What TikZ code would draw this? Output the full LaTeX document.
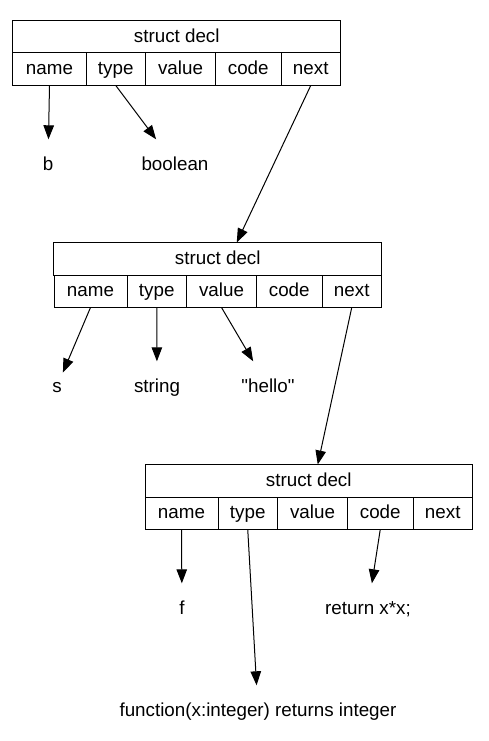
\documentclass[tikz,border=0pt]{standalone}
\usepackage{fontspec}
\setmainfont{Liberation Sans}[Ligatures=TeXReset]
\usetikzlibrary{arrows.meta, positioning}

\tikzset{
	field/.style={shape=rectangle, draw, line width=1bp, minimum height=32.5bp, inner sep=0pt, outer sep=0pt, text height=12bp, text depth=1bp},
	leaf/.style={shape=rectangle, minimum height=50bp, inner sep=1bp, text height=12bp, text depth=1bp},
	ptr/.style={line width=1bp, -{Triangle[length=14bp, width=10.5bp]}}
}

\begin{document}
\begin{tikzpicture}[x=1bp, y=-1bp, font=\fontsize{18.8bp}{22bp}\selectfont]
	\useasboundingbox (0,0) rectangle (489,741);
	% Records:
	\node[field, minimum width=327.5bp] (hdr1) at (176.75, 36.75) {struct decl};
	\node[field, minimum width=73bp] (name1) at (49.5, 69.25) {name};
	\node[field, minimum width=59.5bp] (type1) at (115.75, 69.25) {type};
	\node[field, minimum width=70bp] (value1) at (180.5, 69.25) {value};
	\node[field, minimum width=65.5bp] (code1) at (248.25, 69.25) {code};
	\node[field, minimum width=59.5bp] (next1) at (310.75, 69.25) {next};

	\node[field, minimum width=327.5bp] (hdr2) at (217.75, 258.75) {struct decl};
	\node[field, minimum width=73bp] (name2) at (90.5, 291.25) {name};
	\node[field, minimum width=59.5bp] (type2) at (156.75, 291.25) {type};
	\node[field, minimum width=70bp] (value2) at (221.5, 291.25) {value};
	\node[field, minimum width=65.5bp] (code2) at (289.25, 291.25) {code};
	\node[field, minimum width=59.5bp] (next2) at (351.75, 291.25) {next};

	\node[field, minimum width=327.5bp] (hdr3) at (308.75, 480.75) {struct decl};
	\node[field, minimum width=73bp] (name3) at (181.5, 513.25) {name};
	\node[field, minimum width=59.5bp] (type3) at (247.75, 513.25) {type};
	\node[field, minimum width=70bp] (value3) at (312.5, 513.25) {value};
	\node[field, minimum width=65.5bp] (code3) at (380.25, 513.25) {code};
	\node[field, minimum width=59.5bp] (next3) at (442.75, 513.25) {next};

	% Values:
	\node[leaf] (b) at (48, 164.5) {b};
	\node[leaf] (boolean) at (175, 164.5) {boolean};
	\node[leaf] (s) at (57, 386.5) {s};
	\node[leaf] (string) at (157, 386.5) {string};
	\node[leaf] (hello) at (268, 386.5) {"hello"};
	\node[leaf] (f) at (182, 608.5) {f};
	\node[leaf] (ret) at (368, 608.5) {return x*x;};
	\node[leaf] (func) at (258, 710.5) {function(x:integer) returns integer};

	% Pointers:
	\draw[ptr] (name1.south) -- (b);
	\draw[ptr] (type1.south) -- (boolean);
	\draw[ptr] (next1.south) -- ([xshift=19bp]hdr2.north);
	\draw[ptr] (name2.south) -- (s);
	\draw[ptr] (type2.south) -- (string);
	\draw[ptr] (value2.south) -- (hello);
	\draw[ptr] (next2.south) -- ([xshift=9bp]hdr3.north);
	\draw[ptr] (name3.south) -- (f);
	\draw[ptr] (type3.south) -- (func);
	\draw[ptr] (code3.south) -- (ret);
\end{tikzpicture}
\end{document}
